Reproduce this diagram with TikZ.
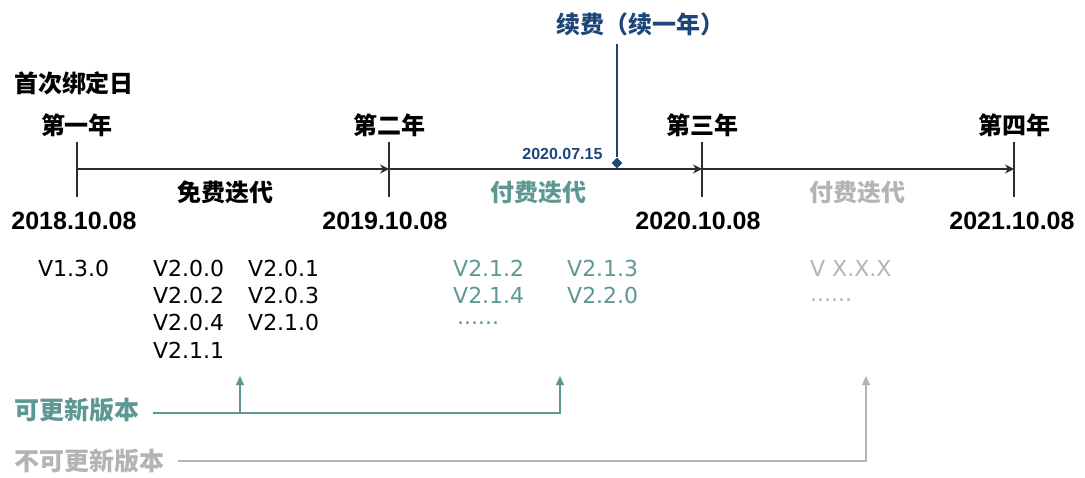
\documentclass[tikz,border=0pt]{standalone}
\usepackage{fontspec}
\setmainfont{Liberation Sans}
\newfontfamily\cjk{Noto Sans CJK SC}
\newfontfamily\verfont{DejaVu Sans}
\usetikzlibrary{arrows.meta, shapes.geometric}
\definecolor{axisc}{RGB}{45,45,45}
\definecolor{renewc}{RGB}{28,70,120}
\definecolor{updc}{RGB}{94,152,149}
\definecolor{noupdc}{RGB}{180,180,180}
\tikzset{axis/.style={line width=1.4pt, axisc, -{Stealth[length=9pt,width=9pt]}}}
\tikzset{tick/.style={line width=1.4pt, axisc}}
\tikzset{year/.style={font=\cjk\bfseries\fontsize{24}{24}\selectfont, text=black}}
\tikzset{date/.style={font=\bfseries\fontsize{25}{25}\selectfont, text=black}}
\tikzset{phase/.style={font=\cjk\bfseries\fontsize{24}{24}\selectfont}}
\tikzset{ver/.style={font=\verfont\fontsize{22}{22}\selectfont, anchor=west, inner sep=0pt}}
\tikzset{legend/.style={font=\cjk\bfseries\fontsize{25}{25}\selectfont, inner sep=0pt}}
\tikzset{link/.style={line width=1.3pt, -{Triangle[length=9pt,width=8pt]}}}

\begin{document}
\begin{tikzpicture}[x=1pt,y=-1pt]
  \useasboundingbox (0,0) rectangle (1085,477);
  % Axis
  \foreach \x/\n in {77/1,389/2,702/3,1014/4} {
    \coordinate (t\n) at (\x,169);
    \draw[tick] (\x,142) -- (\x,197);
  }
  \draw[axis] (t1) -- (t2);
  \draw[axis] (t2) -- (t3);
  \draw[axis] (t3) -- (t4);
  % Years and dates
  \node[year] (first) at (74,83) {首次绑定日};
  \foreach \x/\n/\txt in {77/1/第一年, 389/2/第二年, 702/3/第三年, 1014/4/第四年} {
    \node[year] (year\n) at (\x,125) {\txt};
  }
  \foreach \x/\n/\txt in {74/1/2018.10.08, 385/2/2019.10.08, 698/3/2020.10.08, 1012/4/2021.10.08} {
    \node[date] (date\n) at (\x,221) {\txt};
  }
  \node[phase, text=black] (free) at (225,192) {免费迭代};
  \node[phase, text=updc] (paid) at (538,192) {付费迭代};
  \node[phase, text=noupdc] (later) at (857,192) {付费迭代};
  % Renewal
  \node[phase, text=renewc] (renew) at (640,24) {续费（续一年）};
  \node[diamond, fill=renewc, inner sep=0pt, minimum size=11pt] (rd) at (617,163) {};
  \draw[line width=1.5pt, renewc, shorten <=5pt] (rd |- renew.south) -- (rd);
  \node[font=\bfseries\fontsize{16}{16}\selectfont, text=renewc, anchor=east] (rdate) at (606,154) {2020.07.15};
  % Versions
  \foreach \x/\y/\txt in {
    38/268/V1.3.0, 153/268/V2.0.0, 248/268/V2.0.1,
    153/295/V2.0.2, 248/295/V2.0.3,
    153/322/V2.0.4, 248/322/V2.1.0,
    153/350/V2.1.1%
  } {
    \node[ver, text=black] at (\x,\y) {\txt};
  }
  \foreach \x/\y/\txt in {
    453/268/V2.1.2, 567/268/V2.1.3,
    453/295/V2.1.4, 567/295/V2.2.0,
    457/323/{......}%
  } {
    \node[ver, text=updc] at (\x,\y) {\txt};
  }
  \node[ver, text=noupdc] (vx) at (810,268) {V X.X.X};
  \node[ver, text=noupdc] (vdots) at (810,300) {......};
  % Legend
  \node[legend, text=updc, anchor=west] (upd) at (14,410) {可更新版本};
  \node[legend, text=noupdc, anchor=west] (noupd) at (14,461) {不可更新版本};
  \coordinate (u1) at (240,376);
  \coordinate (u2) at (560,376);
  \coordinate (n1) at (866,376);
  \draw[link, updc, shorten <=14pt] ([yshift=-3pt]upd.east) -- ([yshift=-3pt]upd.east -| u2) -- (u2);
  \draw[link, updc] ([yshift=-3pt]upd.east -| u1) -- (u1);
  \draw[link, noupdc, shorten <=14pt] (noupd.east) -| (n1);
\end{tikzpicture}
\end{document}
